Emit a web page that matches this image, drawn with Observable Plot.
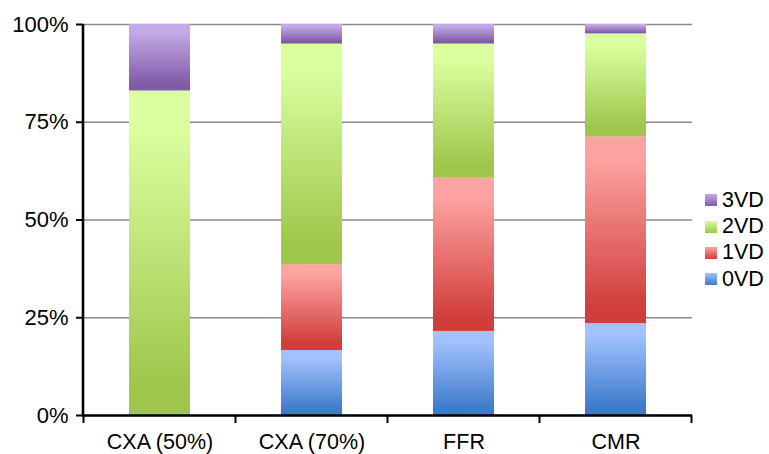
<!DOCTYPE html>
<html>
<head>
<meta charset="utf-8">
<script src="https://cdn.jsdelivr.net/npm/d3@7"></script>
<script src="https://cdn.jsdelivr.net/npm/@observablehq/plot@0.6"></script>
<style>
  html, body { margin: 0; padding: 0; background: #fff; }
  #wrap { position: relative; width: 769px; height: 454px; overflow: hidden; font-family: "Liberation Sans", Arial, sans-serif; }
  #legend { position: absolute; left: 705px; top: 187px; }
  .row { display: flex; align-items: center; height: 26.4px; font-size: 21.5px; color: #000; }
  .sw { width: 12px; height: 12px; margin-right: 5px; }
</style>
</head>
<body>
<div id="wrap"><div id="chart"></div><div id="legend"></div></div>
<script>
const categories = ["CXA (50%)", "CXA (70%)", "FFR", "CMR"];
const series = ["0VD", "1VD", "2VD", "3VD"];
const v0VD = [0, 16.6, 21.5, 23.5];
const v1VD = [0, 22.0, 39.2, 47.8];
const v2VD = [83.0, 56.4, 34.3, 26.3];
const v3VD = [17.0, 5.0, 5.0, 2.4];
const yTicks = [0, 25, 50, 75, 100];
const lightColors = ["#a2c2fe", "#fda3a1", "#d9ff9f", "#c3a9e6"];
const darkColors = ["#3e7bcb", "#d03d3a", "#9dc64a", "#7f5aa6"];

const valuesBySeries = [v0VD, v1VD, v2VD, v3VD];
const data = [];
categories.forEach((c, i) => {
  series.forEach((s, j) => {
    data.push({category: c, series: s, value: valuesBySeries[j][i]});
  });
});

const plot = Plot.plot({
  width: 769,
  height: 454,
  marginTop: 24,
  marginLeft: 83,
  marginRight: 77,
  marginBottom: 39,
  style: {fontFamily: "'Liberation Sans', Arial, sans-serif", fontSize: "22px", background: "#fff", overflow: "visible"},
  x: {domain: categories, paddingInner: 0.6, paddingOuter: 0.3, label: null},
  y: {domain: [0, 100], label: null},
  color: {domain: series, range: series.map((s, j) => `url(#grad${j})`)},
  marks: [
    Plot.gridY(yTicks, {stroke: "#8c8c8c", strokeOpacity: 1, strokeWidth: 1.6}),
    Plot.barY(data, {x: "category", y: "value", fill: "series", order: series}),
    Plot.axisY(yTicks, {tickSize: 7, tickPadding: 8, tickFormat: d => d + "%", strokeWidth: 2, stroke: "#000", fill: "#000", fontSize: 22, label: null}),
    Plot.axisX({tickSize: 0, tickPadding: 18, fill: "#000", fontSize: 21.5, label: null}),
    Plot.ruleY([0], {stroke: "#000", strokeWidth: 2.6})
  ]
});

// gradient definitions referenced by the colour scale
const svg = d3.select(plot);
const defs = svg.insert("defs", ":first-child");
series.forEach((s, j) => {
  const g = defs.append("linearGradient").attr("id", `grad${j}`)
    .attr("x1", 0).attr("y1", 0).attr("x2", 0).attr("y2", 1);
  g.append("stop").attr("offset", "0").attr("stop-color", lightColors[j]);
  g.append("stop").attr("offset", "0.12").attr("stop-color", lightColors[j]);
  g.append("stop").attr("offset", "0.92").attr("stop-color", darkColors[j]);
  g.append("stop").attr("offset", "1").attr("stop-color", darkColors[j]);
});

// left axis line and category boundary ticks, positioned from the plot's scales
const xs = plot.scale("x");
const ys = plot.scale("y");
const y0 = ys.apply(0), y1 = ys.apply(100);
const left = xs.range[0];
const ax = svg.append("g").attr("stroke", "#000");
ax.append("line").attr("x1", left).attr("x2", left).attr("y1", y1).attr("y2", y0 + 1.3).attr("stroke-width", 2.6);
const bounds = categories.map(c => xs.apply(c) - (xs.step - xs.bandwidth) / 2);
bounds.push(xs.apply(categories[categories.length - 1]) + xs.bandwidth + (xs.step - xs.bandwidth) / 2);
bounds.forEach(b => {
  ax.append("line").attr("x1", b).attr("x2", b).attr("y1", y0).attr("y2", y0 + 8).attr("stroke-width", 2);
});

document.getElementById("chart").appendChild(plot);

// legend
const legend = document.getElementById("legend");
[3, 2, 1, 0].forEach(j => {
  const row = document.createElement("div");
  row.className = "row";
  const sw = document.createElement("div");
  sw.className = "sw";
  sw.style.background = `linear-gradient(to bottom, ${lightColors[j]}, ${darkColors[j]})`;
  const label = document.createElement("span");
  label.textContent = series[j];
  row.appendChild(sw);
  row.appendChild(label);
  legend.appendChild(row);
});
</script>
</body>
</html>
